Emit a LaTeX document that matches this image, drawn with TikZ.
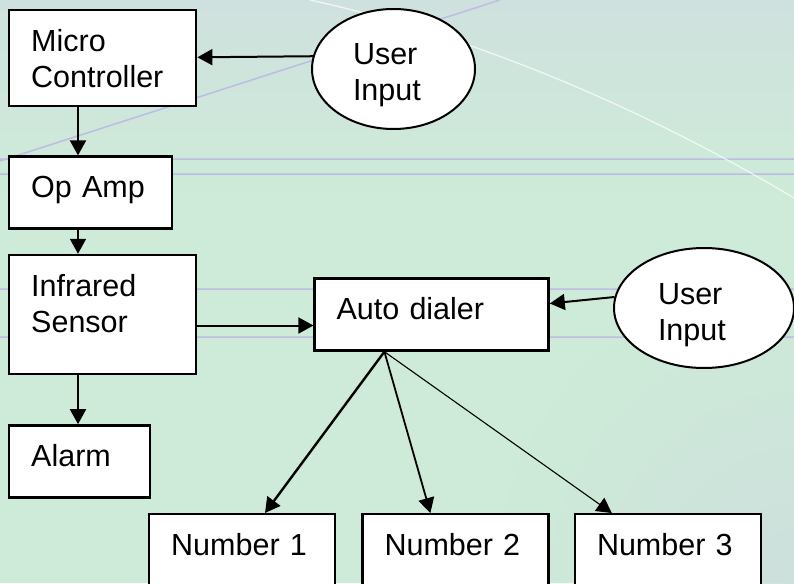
\documentclass[tikz,border=0pt]{standalone}
\usepackage{fontspec}
\setmainfont{Liberation Sans}
\usepackage{tikz}
\usetikzlibrary{positioning, arrows.meta, shapes.geometric, fadings}
\usepackage{xcolor}
\definecolor{bg-top}{RGB}{207,225,222}
\definecolor{bg-mid}{RGB}{205,235,216}
\definecolor{bg-bot}{RGB}{206,224,221}
\definecolor{rule-lilac}{RGB}{190,188,226}

\tikzfading[name=corner fade, inner color=transparent!0, outer color=transparent!100]

\tikzset{
  blk/.style 2 args={draw, fill=white, line width=2.4pt, anchor=north west, align=left,
    inner xsep=22pt, inner ysep=19pt, text height=22pt, text width=#1, text depth=#2},
  inp/.style 2 args={draw, fill=white, ellipse, line width=2pt, inner sep=0pt,
    minimum width=#1, minimum height=120pt, align=left, text width=#2,
    text height=22pt, text depth=30pt},
  arr/.style={-{Triangle[length=15pt, width=16pt]}, line width=2pt}
}

\begin{document}
\begin{tikzpicture}[x=1pt, y=-1pt, font=\fontsize{30.5}{36}\selectfont]
						\useasboundingbox (0,0) rectangle (794,583);
						\clip (0,0) rectangle (794,583);
						\fill[bg-mid] (0,0) rectangle (794,583);
						\shade[top color=bg-top, bottom color=bg-mid] (0,0) rectangle (794,200);
						\fill[bg-bot, path fading=corner fade, fit fading=true] (495,283) rectangle (1095,883);
						\draw[rule-lilac, line width=1.5pt]
						(0,159) -- (794,159) (0,174) -- (794,174)
						(0,289) -- (794,289) (0,337) -- (794,337)
						(0,161) -- (500,0);
						\draw[white, opacity=.75, line width=1.2pt] (310,0) .. controls (470,35) and (640,106) .. (794,198);
						\node[blk={143pt}{36pt}] (mc) at (8,9) {Micro\\Controller};
						\node[blk={119pt}{12pt}, below=48pt of mc.south west, anchor=north west] (amp) {Op Amp};
						\node[blk={143pt}{59pt}, below=24pt of amp.south west, anchor=north west] (ir) {Infrared\\Sensor};
						\node[blk={97pt}{12pt}, below=49pt of ir.south west, anchor=north west] (alarm) {Alarm};
						\node[blk={190pt}{12pt}, right=116pt of ir] (dial) {Auto dialer};
						\node[blk={142pt}{40pt}] (n1) at (148,513) {Number 1};
						\node[blk={142pt}{40pt}, right=25pt of n1] (n2) {Number 2};
						\node[blk={142pt}{40pt}, right=24pt of n2] (n3) {Number 3};
						\node[inp={163pt}{81pt}] (in1) at (393.5,69) {User\\Input};
						\node[inp={180pt}{92pt}] (in2) at (704,308) {User\\Input};
						\draw
						(in1.171) edge[arr] (mc)
						([xshift=70pt]mc.south west) edge[arr] ([xshift=70pt]amp.north west)
						([xshift=70pt]amp.south west) edge[arr] ([xshift=70pt]ir.north west)
						([xshift=70pt]ir.south west) edge[arr] ([xshift=70pt]alarm.north west)
						([yshift=-11pt]ir.east) edge[arr] ([yshift=-11pt]dial.west)
						(in2.173) edge[arr] ([yshift=11pt]dial.east)
						([xshift=71pt]dial.south west) edge[arr, line width=2.4pt] ([xshift=117pt]n1.north west)
						([xshift=71pt]dial.south west) edge[arr, line width=1.8pt] ([xshift=69pt]n2.north west)
						([xshift=71pt]dial.south west) edge[arr, line width=1.1pt] ([xshift=38pt]n3.north west);
					\end{tikzpicture}
\end{document}
